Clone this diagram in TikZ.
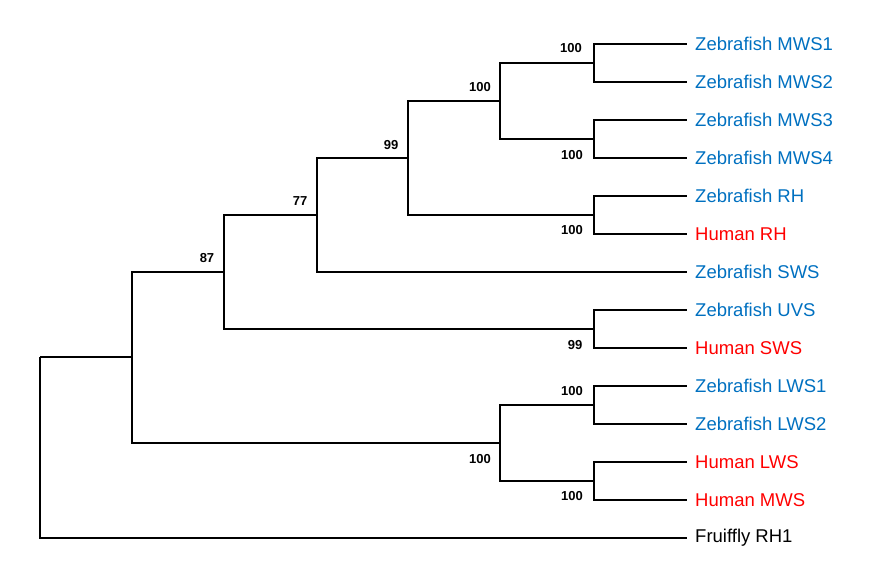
\documentclass[tikz,border=0pt]{standalone}
\usepackage{fontspec}
\setmainfont{Liberation Sans}
\definecolor{zebra}{RGB}{0,112,192}
\definecolor{human}{RGB}{255,0,0}
\tikzset{
  branch/.style={line width=2.6pt, black},
  leaf/.style={anchor=west, inner sep=0pt, inner xsep=8pt, font=\fontsize{18.5}{20}\selectfont},
  boot/.style={font=\bfseries\fontsize{13}{14}\selectfont, inner sep=1pt}
}
\begin{document}
\begin{tikzpicture}[x=1pt,y=-1pt]
  \useasboundingbox (0,0) rectangle (892,576);
  % leaves
  \foreach \nm/\yy/\col/\txt in {m1/44/zebra/Zebrafish MWS1, m2/82/zebra/Zebrafish MWS2,
      m3/120/zebra/Zebrafish MWS3, m4/158/zebra/Zebrafish MWS4, zrh/196/zebra/Zebrafish RH,
      hrh/234/human/Human RH, zsws/272/zebra/Zebrafish SWS, uvs/310/zebra/Zebrafish UVS,
      hsws/348/human/Human SWS, l1/386/zebra/Zebrafish LWS1, l2/424/zebra/Zebrafish LWS2,
      hlws/462/human/Human LWS, hmws/500/human/Human MWS, fly/538/black/Fruiffly RH1}
    \node[leaf, text=\col] (\nm) at (687,\yy) {\txt};
  % internal nodes
  \coordinate (A) at (594,63);
  \coordinate (B) at (594,139);
  \coordinate (C) at (500,101);
  \coordinate (D) at (594,215);
  \coordinate (E) at (408,158);
  \coordinate (F) at (317,215);
  \coordinate (G) at (594,329);
  \coordinate (H) at (224,272);
  \coordinate (I) at (594,405);
  \coordinate (J) at (594,481);
  \coordinate (K) at (500,443);
  \coordinate (L) at (132,357);
  \coordinate (R) at (40,357);
  % branches
  \draw[branch] (A) |- (m1.west); \draw[branch] (A) |- (m2.west);
  \draw[branch] (B) |- (m3.west); \draw[branch] (B) |- (m4.west);
  \draw[branch] (C) |- (A); \draw[branch] (C) |- (B);
  \draw[branch] (D) |- (zrh.west); \draw[branch] (D) |- (hrh.west);
  \draw[branch] (E) |- (C); \draw[branch] (E) |- (D);
  \draw[branch] (F) |- (E); \draw[branch] (F) |- (zsws.west);
  \draw[branch] (G) |- (uvs.west); \draw[branch] (G) |- (hsws.west);
  \draw[branch] (H) |- (F); \draw[branch] (H) |- (G);
  \draw[branch] (I) |- (l1.west); \draw[branch] (I) |- (l2.west);
  \draw[branch] (J) |- (hlws.west); \draw[branch] (J) |- (hmws.west);
  \draw[branch] (K) |- (I); \draw[branch] (K) |- (J);
  \draw[branch] (L) |- (H); \draw[branch] (L) |- (K);
  \draw[branch] (R) |- (L); \draw[branch] (R) |- (fly.west);
  % bootstrap values
  \node[boot] (bA) at (571,48) {100};
  \node[boot] (bB) at (572,155) {100};
  \node[boot] (bC) at (480,87) {100};
  \node[boot] (bD) at (572,230) {100};
  \node[boot] (bE) at (391,145) {99};
  \node[boot] (bF) at (300,201) {77};
  \node[boot] (bG) at (575,345) {99};
  \node[boot] (bH) at (207,258) {87};
  \node[boot] (bI) at (572,391) {100};
  \node[boot] (bJ) at (572,496) {100};
  \node[boot] (bK) at (480,459) {100};
\end{tikzpicture}
\end{document}
